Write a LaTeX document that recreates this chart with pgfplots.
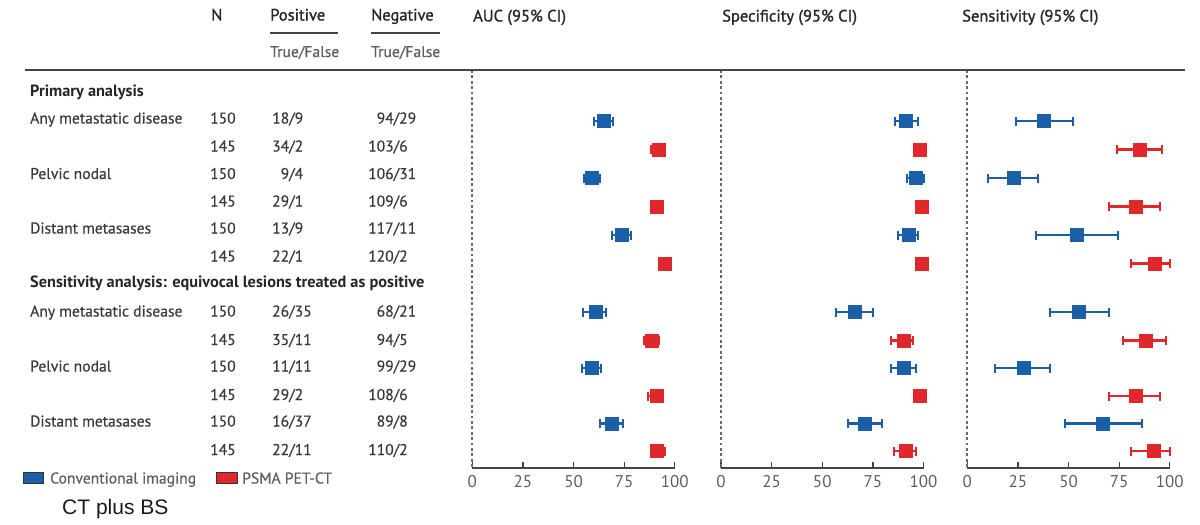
\documentclass[border=0pt]{standalone}
\usepackage{pgfplots}
\usepackage{pgfplotstable}
\pgfplotsset{compat=1.18}
\usepackage{fontspec}
\setmainfont{PT Sans}
\newfontfamily\arialfont{Liberation Sans}
\definecolor{cblue}{HTML}{1B5FA8}
\definecolor{cred}{HTML}{E0282C}
\definecolor{txt}{HTML}{3A3A3A}
\definecolor{axgray}{HTML}{444444}
\definecolor{tickgray}{HTML}{5E5E5E}
\definecolor{zgray}{HTML}{6A6A6A}

% columns: y (row position), est, lo, hi
\pgfplotstableread{
y est lo hi
121 65 60 69.5
178 59 55 63
235 74 69 78.5
312 61 54.7 66.2
368 59 54 63.6
423.5 69 63 74.2
}\aucB
\pgfplotstableread{
y est lo hi
149.5 92 88 95
206.5 91 88 94
263.5 95 92 97
340.5 88.7 84.7 92
396 91 87 94
451 91 88 95
}\aucR
\pgfplotstableread{
y est lo hi
121 91.3 86 97.5
178 96.2 92 100
235 92.8 87.6 97.5
312 66.2 56.8 75.3
368 90.1 84 96.4
423.5 71 62.6 79.6
}\specB
\pgfplotstableread{
y est lo hi
149.5 98 96 99.5
206.5 99 97 100
263.5 99 97 100
340.5 90.1 84 95
396 98 96 99.5
451 91 85.6 96.2
}\specR
\pgfplotstableread{
y est lo hi
121 37.8 24 52
178 22.8 10 34.8
235 54 34 74.3
312 55 41 70
368 27.7 13.7 41
423.5 67 48 86.3
}\sensB
\pgfplotstableread{
y est lo hi
149.5 85.2 74 96.2
206.5 83 70 95.2
263.5 92.3 81 100
340.5 88 77 98.2
396 83 70 95
451 92 81 100
}\sensR

\pgfplotsset{
  panel/.style={
    scale only axis, width=202.5pt, height=398pt,
    xmin=0, xmax=100, ymin=70, ymax=468, y dir=reverse,
    enlargelimits=false, clip=false,
    axis x line*=bottom, hide y axis,
    xtick={0,25,50,75,100},
    tick align=inside, major tick length=6pt,
    every tick/.style={axgray, line width=1.3pt},
    axis line style={axgray, line width=1.5pt},
    /pgf/number format/assume math mode=true,
    xticklabel style={font=\fontsize{17}{18}\selectfont, text=tickgray, yshift=-4pt},
  },
  ci/.style={
    only marks, mark=square*, mark size=6.5pt,
    mark options={draw=#1, fill=#1, rounded corners=1pt},
    error bars/.cd, x dir=both, x explicit, error mark=|,
    error bar style={#1, line width=2.2pt},
    error mark options={#1, line width=2pt, mark size=4.5pt},
  },
}
\newcommand{\ciplot}[2]{\addplot[ci=#1] table[x=est, y=y, x error minus expr=\thisrow{est}-\thisrow{lo}, x error plus expr=\thisrow{hi}-\thisrow{est}]{#2};}
\newcommand{\zeroline}{\draw[zgray, line width=2.2pt, dash pattern=on 2.8pt off 2.6pt] (axis cs:0,70) -- (axis cs:0,468);}

\begin{document}
\begin{tikzpicture}
\useasboundingbox (0,0) rectangle (1200pt,-525pt);

\begin{axis}[panel, at={(472.3pt,-468pt)}, anchor=south west]
\zeroline
\ciplot{cblue}{\aucB}
\ciplot{cred}{\aucR}
\end{axis}

\begin{axis}[panel, at={(721pt,-468pt)}, anchor=south west]
\zeroline
\ciplot{cblue}{\specB}
\ciplot{cred}{\specR}
\end{axis}

\begin{axis}[panel, at={(967.3pt,-468pt)}, anchor=south west]
\zeroline
\ciplot{cblue}{\sensB}
\ciplot{cred}{\sensR}
\end{axis}

\begin{scope}[x=1pt, y=-1pt, every node/.style={inner sep=0pt, text=txt, font=\fontsize{15.6}{18}\selectfont\addfontfeatures{FakeBold=0.5}}]
% header
\tikzset{hdr/.style={anchor=base west, text=black!85, font=\fontsize{16.5}{18}\selectfont\addfontfeatures{FakeBold=1.2}}}
\node[hdr] at (211,20.5) {N};
\node[hdr] at (270,20.5) {Positive};
\node[hdr] at (371,20.5) {Negative};
\draw[axgray, line width=1.6pt] (270,32.7) -- (338,32.7);
\draw[axgray, line width=1.6pt] (371,32.7) -- (440,32.7);
\node[anchor=base west, text=tickgray] at (270,57) {True/False};
\node[anchor=base west, text=tickgray] at (371,57) {True/False};
\node[hdr] at (473,21.5) {AUC (95\% CI)};
\node[hdr] at (722,21.5) {Specificity (95\% CI)};
\node[hdr] at (962,21.5) {Sensitivity (95\% CI)};
\draw[axgray, line width=1.5pt] (25,70) -- (1185,70);

% section headings
\tikzset{sec/.style={anchor=base west, text=black!85, font=\fontsize{16.3}{18}\selectfont\bfseries}}
\node[sec] at (30,96) {Primary analysis};
\node[sec] at (30,287.5) {Sensitivity analysis: equivocal lesions treated as positive};

% rows
\foreach \yy/\lab/\n/\pa/\pb/\na/\nb in {
  123.5/Any metastatic disease/150/18/9/94/29,
  151.5//145/34/2/103/6,
  179/Pelvic nodal/150/9/4/106/31,
  206.5//145/29/1/109/6,
  233.5/Distant metasases/150/13/9/117/11,
  261.5//145/22/1/120/2,
  316.5/Any metastatic disease/150/26/35/68/21,
  345//145/35/11/94/5,
  371.5/Pelvic nodal/150/11/11/99/29,
  400//145/29/2/108/6,
  426.5/Distant metasases/150/16/37/89/8,
  455//145/22/11/110/2}{
  \node[anchor=base west] at (30,\yy) {\lab};
  \node[anchor=base west] at (210,\yy) {\n};
  \node[anchor=base west] at (289,\yy) {\llap{\pa}/\pb};
  \node[anchor=base west] at (393.5,\yy) {\llap{\na}/\nb};
}

% legend
\draw[black!80, line width=0.8pt, fill=cblue] (23,472) rectangle (43,483);
\node[anchor=base west, text=tickgray] at (50,483.5) {Conventional imaging};
\draw[black!80, line width=0.8pt, fill=cred] (216,472) rectangle (237,483);
\node[anchor=base west, text=tickgray] at (242,483.5) {PSMA PET-CT};
\node[anchor=base west, text=black!90, font=\arialfont\fontsize{21}{24}\selectfont] at (62,514.5) {CT plus BS};
\end{scope}
\end{tikzpicture}
\end{document}
